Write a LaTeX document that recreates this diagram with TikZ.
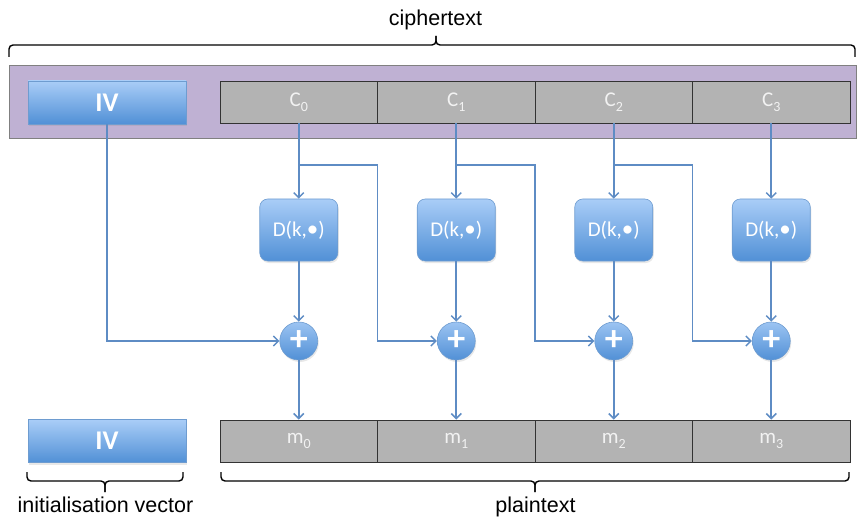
\documentclass[tikz,border=0pt]{standalone}
\usepackage{fontspec}
\setmainfont{Liberation Sans}
\newfontfamily\boxfont{Carlito}
\usetikzlibrary{arrows.meta,shadows,calc}
\definecolor{bluetop}{HTML}{A9CDF7}
\definecolor{bluebot}{HTML}{5190D6}
\definecolor{blueline}{HTML}{5E8CC4}
\definecolor{blueborder}{HTML}{6E9CD0}
\definecolor{purplebar}{HTML}{BFB1D3}
\definecolor{graybox}{HTML}{B3B3B3}
\definecolor{boxtext}{HTML}{F2F2F2}
\newcommand{\sbs}[1]{\raisebox{-5pt}{\fontsize{14}{14}\selectfont #1}}
\newcommand{\bigdot}{{\fontsize{23}{23}\selectfont •}}
\tikzset{
  shad/.style={drop shadow={opacity=0.18,shadow xshift=1pt,shadow yshift=-2pt}},
  ivbox/.style={rectangle,minimum width=158,minimum height=43,top color=bluetop,bottom color=bluebot,
     draw=blueborder,line width=0.6pt,text=white,font=\boxfont\bfseries\fontsize{27}{29}\selectfont,shad},
  blk/.style={rectangle,minimum width=157.5,minimum height=42,draw=black!80,fill=graybox,line width=0.9pt,
     text=boxtext,font=\boxfont\fontsize{21}{22}\selectfont,inner sep=0pt},
  dbox/.style={rectangle,rounded corners=8pt,minimum width=78,minimum height=62,top color=bluetop,bottom color=bluebot,
     draw=blueborder,line width=0.6pt,text=white,font=\boxfont\fontsize{21}{22}\selectfont,shad},
  xorc/.style={circle,minimum size=38,inner sep=0pt,top color=bluetop!85!bluebot,bottom color=bluebot,
     draw=blueborder,line width=0.6pt,text=white,font=\boxfont\bfseries\fontsize{36}{36}\selectfont,shad},
  flow/.style={draw=blueline,line width=1.8pt,-{Straight Barb[length=5pt,width=10pt,line width=1.5pt]}},
  brc/.style={draw=black,line width=1.4pt,rounded corners=4pt},
  lbl/.style={font=\fontsize{21.5}{24}\selectfont,anchor=base,inner sep=0pt}
}
\begin{document}
\begin{tikzpicture}[x=1pt,y=-1pt]
\useasboundingbox (0,0) rectangle (858,521);
% ciphertext bar
\node[rectangle,draw=black!50,fill=purplebar,line width=0.8pt,minimum width=847,minimum height=73,inner sep=0pt] (ctbar) at (432.5,101.5) {};
\node[ivbox] (ivtop) at (107,102.5) {IV};
\foreach \i/\x in {0/298.75,1/456.25,2/613.75,3/771.25}{
  \node[blk] (c\i) at (\x,102) {C\sbs{\i}};
  \node[dbox] (d\i) at (\x,230) {D(k,\bigdot)};
  \node[xorc] (x\i) at (\x,341) {+};
  \node[blk] (m\i) at (\x,441) {m\sbs{\i}};
  \coordinate (b\i) at (\x,165);
}
\node[ivbox] (ivbot) at (107,441) {IV};
% connectors
\foreach \i in {0,1,2,3}{
  \draw[flow] (c\i.south) -- (d\i.north);
  \draw[flow] (d\i.south) -- (x\i.north);
  \draw[flow] (x\i.south) -- (m\i.north);
}
\draw[flow] (ivtop.south) |- (x0.west);
\coordinate (k0) at (377.5,165);
\coordinate (k1) at (535,165);
\coordinate (k2) at (692.5,165);
\draw[flow] (b0) -- (k0) |- (x1.west);
\draw[flow] (b1) -- (k1) |- (x2.west);
\draw[flow] (b2) -- (k2) |- (x3.west);
% braces
\coordinate (tl) at (9,57);
\coordinate (tt) at (436,36);
\coordinate (tr) at (855,57);
\draw[brc] (tl) -- (9,45) -- (436,45) -- (tt);
\draw[brc] (tt) -- (436,45) -- (855,45) -- (tr);
\node[lbl] (ctext) at (435.5,26) {ciphertext};
\coordinate (il) at (27,472);
\coordinate (it) at (105,492);
\coordinate (ir) at (183,472);
\draw[brc] (il) -- (27,481) -- (105,481) -- (it);
\draw[brc] (it) -- (105,481) -- (183,481) -- (ir);
\node[lbl] (ivtext) at (105.5,512) {initialisation vector};
\coordinate (pl) at (221,472);
\coordinate (pt) at (535,492);
\coordinate (pr) at (849,472);
\draw[brc] (pl) -- (221,481) -- (535,481) -- (pt);
\draw[brc] (pt) -- (535,481) -- (849,481) -- (pr);
\node[lbl] (ptext) at (535.5,512) {plaintext};
\end{tikzpicture}
\end{document}
